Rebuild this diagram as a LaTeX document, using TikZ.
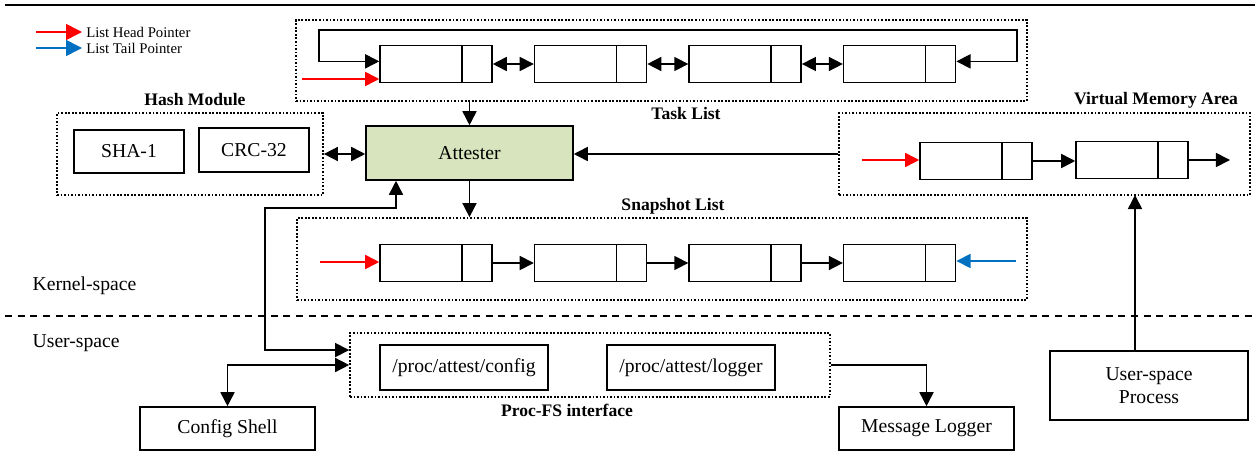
\documentclass[tikz,border=0pt]{standalone}
\usepackage{fontspec}
\setmainfont{Liberation Serif}
\usetikzlibrary{arrows.meta, positioning}
\definecolor{headred}{RGB}{255,0,0}
\definecolor{tailblue}{RGB}{0,112,192}
\definecolor{attgreen}{RGB}{215,228,189}

\begin{document}
\begin{tikzpicture}[x=0.02cm, y=-0.02cm, line width=0.9pt, >={Triangle[length=8pt, width=8pt]},
	font=\fontsize{11.2}{13}\selectfont,
	cell/.style={draw, minimum width=2.24cm, minimum height=0.74cm, inner sep=0pt,
		path picture={\draw ([xshift=-0.6cm]path picture bounding box.north east) -- ([xshift=-0.6cm]path picture bounding box.south east);}},
	blk/.style={draw, align=center, inner sep=0pt},
	grp/.style={draw, line width=1pt, dash pattern=on 1pt off 1pt, inner sep=0pt},
	title/.style={font=\bfseries\fontsize{10}{12}\selectfont},
	headptr/.style={->, headred},
	tailptr/.style={->, tailblue}]

	\useasboundingbox (0,0) rectangle (1257,470);

	\draw[line width=1.6pt] (5,5) -- (1255,5);
	\draw[line width=1.1pt, dash pattern=on 4pt off 3.2pt] (5,316) -- (1255,316);

	\node[anchor=west] (kern) at (26,286) {Kernel-space};
	\node[anchor=west] (user) at (26,343) {User-space};

	\coordinate (lgA) at (36,32);
	\coordinate (lgB) at (36,48);
	\draw[headptr, >={Triangle[length=9pt, width=9pt]}] (lgA) -- ++(46,0) node[right, black, inner sep=2pt, font=\fontsize{8.4}{10}\selectfont] (lghead) {List Head Pointer};
	\draw[tailptr, >={Triangle[length=9pt, width=9pt]}] (lgB) -- ++(46,0) node[right, black, inner sep=2pt, font=\fontsize{8.4}{10}\selectfont] (lgtail) {List Tail Pointer};

	\node[grp, minimum width=14.62cm, minimum height=1.62cm] (tasks) at (661.5,60.5) {};
	\node[title] (tasklbl) at (686,113) {Task List};
	\node[cell] (t1) at (436,64) {};
	\node[cell, right=0.82cm of t1] (t2) {};
	\node[cell, right=0.82cm of t2] (t3) {};
	\node[cell, right=0.82cm of t3] (t4) {};
	\coordinate (loopL) at (319,30);
	\coordinate (loopR) at (1017,30);
	\coordinate (headT) at (302,79);
	\draw[<->] ([yshift=1.5pt]t4.east) -| (loopR) -- (loopL) |- ([yshift=1.5pt]t1.west);
	\draw[headptr] (headT) -- (headT -| t1.west);
	\draw[<->] (t1) -- (t2);
	\draw[<->] (t2) -- (t3);
	\draw[<->] (t3) -- (t4);

	\node[title] (hashlbl) at (195,100) {Hash Module};
	\node[grp, minimum width=5.32cm, minimum height=1.64cm] (hash) at (190,154) {};
	\node[blk, minimum width=2.2cm, minimum height=0.86cm] (sha) at (129,151.5) {SHA-1};
	\node[blk, minimum width=2.2cm, minimum height=0.88cm] (crc) at (254,150) {CRC-32};

	\node[blk, fill=attgreen, minimum width=4.14cm, minimum height=1.08cm] (att) at (469.5,153) {Attester};

	\node[title] (vmalbl) at (1156,100) {Virtual Memory Area};
	\node[grp, minimum width=8.22cm, minimum height=1.64cm] (vma) at (1044.5,154) {};
	\node[cell] (v1) at (976,161) {};
	\node[cell] (v2) at (1132,160) {};
	\coordinate (headV) at (862,160);
	\coordinate (nextV) at (1230,160);
	\draw[headptr] (headV) -- (headV -| v1.west);
	\draw[->] (v1.east) -- (v1.east -| v2.west);
	\draw[->] (v2.east) -- (nextV);

	\node[title] (snaplbl) at (673,206) {Snapshot List};
	\node[grp, minimum width=14.6cm, minimum height=1.64cm] (snaps) at (662,259) {};
	\node[cell] (s1) at (436,263) {};
	\node[cell, right=0.82cm of s1] (s2) {};
	\node[cell, right=0.82cm of s2] (s3) {};
	\node[cell, right=0.82cm of s3] (s4) {};
	\coordinate (headS) at (320,262);
	\coordinate (tailS) at (1016,261);
	\draw[headptr] (headS) -- (headS -| s1.west);
	\draw[tailptr] (tailS) -- (tailS -| s4.east);
	\draw[->] (s1) -- (s2);
	\draw[->] (s2) -- (s3);
	\draw[->] (s3) -- (s4);

	\node[grp, minimum width=9.6cm, minimum height=1.28cm] (procfs) at (590,365) {};
	\node[title] (proclbl) at (567,410) {Proc-FS interface};
	\node[blk, minimum width=3.36cm, minimum height=0.9cm] (pcfg) at (464,367.5) {/proc/attest/config};
	\node[blk, minimum width=3.36cm, minimum height=0.9cm] (plog) at (691,367.5) {/proc/attest/logger};

	\node[blk, minimum width=3.5cm, minimum height=0.86cm] (shell) at (227.5,428.5) {Config Shell};
	\node[blk, minimum width=3.5cm, minimum height=0.86cm] (logger) at (926.5,428.5) {Message Logger};
	\node[blk, minimum width=3.96cm, minimum height=1.38cm] (uproc) at (1149,385.5) {User-space\\Process};

	\draw[->] (att.north |- tasks.south) -- (att.north);
	\draw[->] (att.south) -- (att.south |- snaps.north);
	\draw[<->] (hash.east) -- (hash.east -| att.west);
	\draw[->] (vma.west) -- (vma.west -| att.east);

	\coordinate (cfgUp) at (396,208);
	\coordinate (cfgLeft) at (265,208);
	\coordinate (vmaIn) at (1135,195);
	\draw[<->] (att.south -| cfgUp) -- (cfgUp) -- (cfgLeft) |- ([yshift=8.5pt]procfs.west);
	\draw[<->] (shell.north) |- (procfs.west);
	\draw[->] (procfs.east) -| (logger.north);
	\draw[->] (uproc.north -| vmaIn) -- (vmaIn);

\end{tikzpicture}
\end{document}
